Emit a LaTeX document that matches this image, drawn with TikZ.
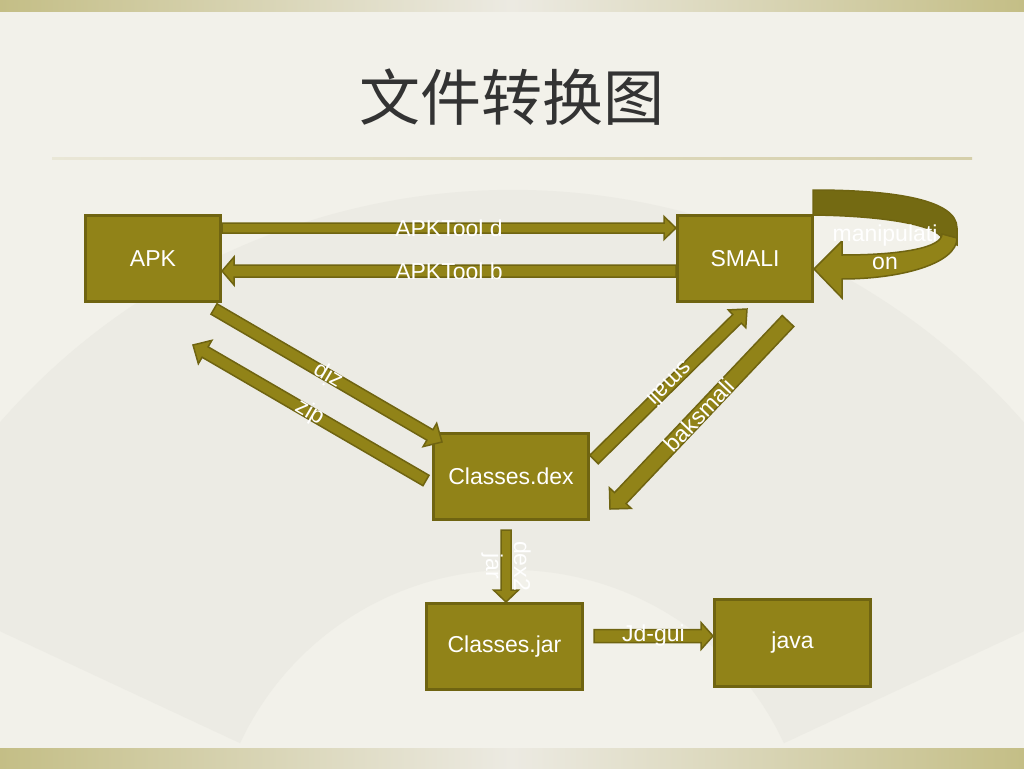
\documentclass[tikz,border=0pt]{standalone}
\usepackage{fontspec}
\setmainfont{Liberation Sans}
\newfontfamily\cjk{Noto Sans CJK SC}
\usetikzlibrary{calc}

\definecolor{boxfill}{HTML}{918318}
\definecolor{boxedge}{HTML}{6F6411}
\definecolor{loopback}{HTML}{746A12}
\definecolor{bgcol}{HTML}{F2F1EA}
\definecolor{bandside}{HTML}{C4BE86}
\definecolor{bandmid}{HTML}{ECEAE2}
\definecolor{fancol}{HTML}{ECEBE4}
\definecolor{titlecol}{HTML}{333333}
\definecolor{rulecol}{HTML}{D5CFAA}

\tikzset{
  box/.style={draw=boxedge, fill=boxfill, line width=3pt, minimum width=#1,
    minimum height=86pt, inner sep=0pt, text=white, font=\fontsize{23}{28}\selectfont},
  box/.default=135pt,
  lbl/.style={text=white, inner sep=0pt, align=center, font=\fontsize{23}{28}\selectfont},
  blockarr/.style={draw=boxedge, fill=boxfill, line width=1.5pt, line join=miter}
}

% block arrow: from, to, half shaft, half head, head length
\newcommand{\blockarrow}[5]{%
  \draw[blockarr] let \p1=(#1), \p2=(#2),
      \n1={atan2(\y2-\y1,\x2-\x1)}, \n2={veclen(\x2-\x1,\y2-\y1)} in
    ($(\p1)+({\n1+90}:#3pt)$) -- ++({\n1}:{\n2-#5pt}) -- ++({\n1+90}:{#4pt-#3pt})
    -- (\p2) -- ($(\p2)+({\n1+180}:#5pt)+({\n1-90}:#4pt)$) -- ++({\n1+90}:{#4pt-#3pt})
    -- ($(\p1)+({\n1-90}:#3pt)$) -- cycle;
}

\begin{document}
\begin{tikzpicture}[x=1pt, y=-1pt]
\useasboundingbox (0,0) rectangle (1024,768);
% background
\fill[bgcol] (0,0) rectangle (1024,768);
\shade[left color=bandside, right color=bandside, middle color=bandmid] (0,0) rectangle (1024,12);
\shade[left color=bandside, right color=bandside, middle color=bandmid] (0,748) rectangle (1024,768);
\fill[fancol] (512,870) ++(155:680pt) arc[start angle=155, end angle=25, radius=680pt]
  -- ($(512,870)+(25:300pt)$) arc[start angle=25, end angle=155, radius=300pt] -- cycle;
\shade[left color=rulecol!30!bgcol, right color=rulecol] (52,157) rectangle (972,159);

\node[text=titlecol, font=\cjk\fontsize{61}{70}\selectfont] (title) at (512,97) {文件转换图};

% boxes
\node[box] (apk) at (153,258.5) {APK};
\node[box] (smali) at (745,258.5) {SMALI};
\node[box=155pt] (dex) at (511,476.5) {Classes.dex};
\node[box=156pt] (jar) at (504.5,646.5) {Classes.jar};
\node[box=156pt, minimum height=87pt] (java) at (792.5,643) {java};

% arrow ends
\coordinate (d-s) at (apk.east |- 0,228);
\coordinate (d-e) at (smali.west |- 0,228);
\coordinate (b-s) at (smali.west |- 0,271);
\coordinate (b-e) at (apk.east |- 0,271);
\coordinate (unz-s) at ($(apk.south east)+(-8,6)$);
\coordinate (unz-e) at ($(dex.north west)+(10,10)$);
\coordinate (z-s) at ($(dex.west)+(-6,4)$);
\coordinate (z-e) at ($(apk.south)+(40,42)$);
\coordinate (sm-s) at ($(dex.east)+(4,-17)$);
\coordinate (sm-e) at ($(smali.south)+(2,6)$);
\coordinate (bk-s) at ($(smali.south east)+(-26,18)$);
\coordinate (bk-e) at ($(dex.south east)+(20,-12)$);
\coordinate (dj-s) at ($(dex.south)+(-5,9)$);
\coordinate (dj-e) at (dj-s |- jar.north);
\coordinate (jd-s) at ($(jar.east)+(10,-10.5)$);
\coordinate (jd-e) at (java.west |- jd-s);

\blockarrow{d-s}{d-e}{5}{11.5}{12}
\blockarrow{b-s}{b-e}{6}{14}{12}
\blockarrow{unz-s}{unz-e}{6}{13.5}{14}
\blockarrow{z-s}{z-e}{6}{13.5}{14}
\blockarrow{sm-s}{sm-e}{6}{12.5}{14}
\blockarrow{bk-s}{bk-e}{8}{15}{15}
\blockarrow{dj-s}{dj-e}{5}{12.5}{12}
\blockarrow{jd-s}{jd-e}{6.5}{13.5}{12}

% manipulation loop
\draw[blockarr, fill=loopback] (813,190) .. controls (895,190) and (957,200) .. (957,228)
  -- (957,245) -- (942,238) .. controls (936,226) and (890,216) .. (813,215) -- cycle;
\draw[blockarr] (957,238) .. controls (957,264) and (900,279) .. (842,279)
  -- (842,298) -- (smali.east |- 0,269) -- (842,241) -- (842,255)
  .. controls (900,255) and (942,248) .. (942,234) -- cycle;

% labels
\node[lbl] (l-d) at ($(d-s)!0.5!(d-e)$) {APKTool d};
\node[lbl] (l-b) at ($(b-s)!0.5!(b-e)$) {APKTool b};
\node[lbl, rotate=149.4] (l-unz) at ($(unz-s)!0.5!(unz-e)$) {zip};
\node[lbl, rotate=-30.3] (l-z) at ($(z-s)!0.5!(z-e)$) {zip};
\node[lbl, rotate=-135] (l-sm) at ($(sm-s)!0.5!(sm-e)$) {smali};
\node[lbl, rotate=46.3] (l-bk) at ($(bk-s)!0.5!(bk-e)$) {baksmali};
\node[lbl, rotate=-90] (l-dj) at ($(dj-s)!0.5!(dj-e)$) {dex2\\jar};
\node[lbl] (l-jd) at ($(jd-s)!0.5!(jd-e)$) {Jd-gui};
\node[lbl] (l-man) at (885,247) {manipulati\\on};
\end{tikzpicture}
\end{document}
